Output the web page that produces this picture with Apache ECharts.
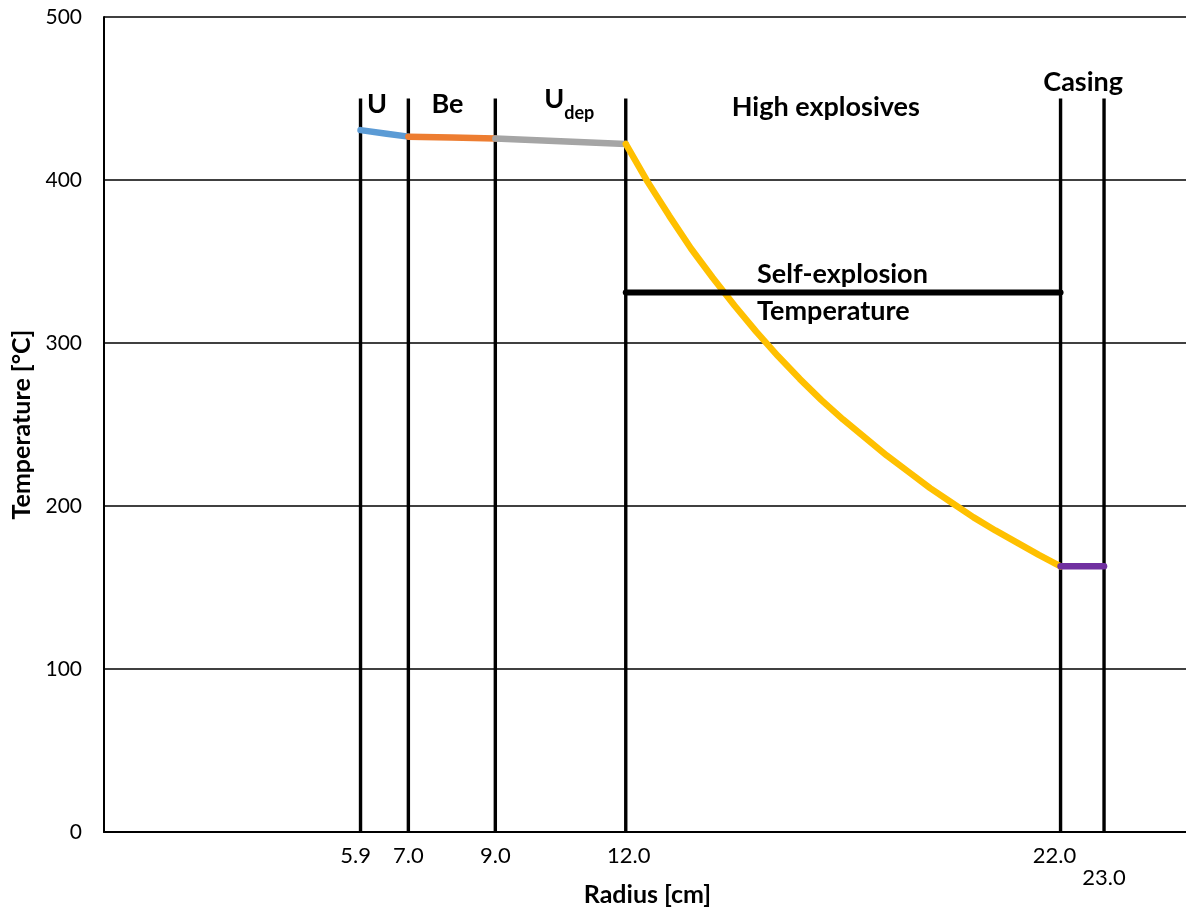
<!DOCTYPE html>
<html>
<head>
<meta charset="utf-8">
<script src="https://cdn.jsdelivr.net/npm/echarts@6/dist/echarts.min.js"></script>
<style>
html,body{margin:0;padding:0;background:#fff;}
#chart{width:1186px;height:911px;}
</style>
</head>
<body>
<div id="chart"></div>
<script>
// ---- data ----
const radiusTicks = [5.9, 7.0, 9.0, 12.0, 22.0, 23.0];
const boundaryTop = 450;
const uData = [[5.9, 430.6], [6.5, 428.4], [7.0, 426.6]];
const beData = [[7.0, 426.6], [8.0, 426.0], [9.0, 425.4]];
const udepData = [[9.0, 425.4], [10.5, 423.8], [12.0, 422.1]];
const heRadius = [12.0, 12.5, 13.0, 13.5, 14.0, 14.5, 15.0, 15.5, 16.0, 16.5, 17.0, 17.5, 18.0, 18.5, 19.0, 19.5, 20.0, 20.5, 21.0, 21.5, 22.0];
const heTemp = [422.1, 399, 378, 358, 340, 323, 307, 292, 278, 265, 253, 242, 231, 221, 211, 202, 193, 185, 177.5, 170, 163];
const casingData = [[22.0, 163], [23.0, 163]];
const selfExplosionTemp = 331;
const selfExplosionRange = [12.0, 22.0];
const yTicks = [0, 100, 200, 300, 400, 500];

// annotations: text and anchor in data coordinates
const annotations = [
  { text: 'U', at: [6.28, 446.5], align: 'center' },
  { text: 'Be', at: [7.90, 446.5], align: 'center' },
  { text: '{u|U}{s|dep}', at: [10.7, 446.5], align: 'center' },
  { text: 'High explosives', at: [16.6, 444.8], align: 'center' },
  { text: 'Casing', at: [22.52, 460], align: 'center' },
  { text: 'Self-explosion', at: [15.02, 342.3], align: 'left' },
  { text: 'Temperature', at: [15.02, 319.6], align: 'left' }
];

const FONT = 'Lato';
const chart = echarts.init(document.getElementById('chart'), null, { renderer: 'canvas' });

const series = [];
// layer boundaries (vertical lines)
radiusTicks.forEach(function (r) {
  series.push({
    type: 'line', data: [[r, 0], [r, boundaryTop]], symbol: 'none', silent: true, z: 2,
    lineStyle: { color: '#000', width: 3.4 }
  });
});
function curve(data, color, z) {
  return {
    type: 'line', data: data, symbol: 'none', smooth: false, z: z || 3,
    lineStyle: { color: color, width: 6.5, cap: 'round', join: 'round' }
  };
}
series.push(curve(uData, '#5B9BD5'));
series.push(curve(beData, '#ED7D31'));
series.push(curve(udepData, '#A5A5A5'));
series.push(curve(heRadius.map(function (r, i) { return [r, heTemp[i]]; }), '#FFC000'));
series.push(curve(casingData, '#7030A0', 4));
series.push({
  type: 'line', data: [[selfExplosionRange[0], selfExplosionTemp], [selfExplosionRange[1], selfExplosionTemp]],
  symbol: 'none', z: 5, lineStyle: { color: '#000', width: 6, cap: 'round' }
});
// tick labels at boundaries
const tickOffsets = { '5.9': [-5, 0], '12': [3, 0], '22': [-6, 0], '23': [0, 22] };
series.push({
  type: 'scatter', symbolSize: 0, z: 6, silent: true,
  itemStyle: { opacity: 1 },
  data: radiusTicks.map(function (r) {
    return { value: [r, 0], label: { offset: tickOffsets[String(r)] || [0, 0] } };
  }),
  label: {
    show: true, position: 'bottom', distance: 13, opacity: 1,
    formatter: function (p) { return p.value[0].toFixed(1); },
    color: '#000', fontFamily: FONT, fontSize: 22
  }
});
// annotations
annotations.forEach(function (a) {
  series.push({
    type: 'scatter', symbolSize: 0, z: 6, silent: true,
    itemStyle: { opacity: 1 },
    data: [a.at],
    label: {
      show: true, position: a.align === 'left' ? 'right' : 'inside', distance: 0, opacity: 1,
      formatter: a.text, color: '#000', fontFamily: FONT, fontWeight: 'bold', fontSize: 27,
      align: a.align, verticalAlign: 'middle',
      rich: {
        u: { fontFamily: FONT, fontWeight: 'bold', fontSize: 27, color: '#000', verticalAlign: 'top', lineHeight: 36 },
        s: { fontFamily: FONT, fontWeight: 'bold', fontSize: 18, color: '#000', verticalAlign: 'bottom', lineHeight: 18 }
      }
    }
  });
});

chart.setOption({
  animation: false,
  backgroundColor: '#fff',
  grid: { left: 104, top: 17, bottom: 79, right: -5, containLabel: false, outerBoundsMode: 'none' },
  xAxis: {
    type: 'value', min: 0, max: 25,
    name: 'Radius [cm]', nameLocation: 'middle', nameGap: 50,
    nameTextStyle: { fontFamily: FONT, fontWeight: 'bold', fontSize: 25, color: '#000' },
    axisLine: { show: true, onZero: false, lineStyle: { color: '#000', width: 2 } },
    axisTick: { show: false }, axisLabel: { show: false }, splitLine: { show: false }
  },
  yAxis: {
    type: 'value', min: yTicks[0], max: yTicks[yTicks.length - 1], interval: 100,
    name: 'Temperature [°C]', nameLocation: 'middle', nameGap: 69,
    nameTextStyle: { fontFamily: FONT, fontWeight: 'bold', fontSize: 25, color: '#000' },
    axisLine: { show: true, lineStyle: { color: '#000', width: 2 } },
    axisTick: { show: false },
    axisLabel: { margin: 22, fontFamily: FONT, fontSize: 21, color: '#000' },
    splitLine: { show: true, lineStyle: { color: '#000', width: 1.5 } }
  },
  series: series
});
</script>
</body>
</html>
